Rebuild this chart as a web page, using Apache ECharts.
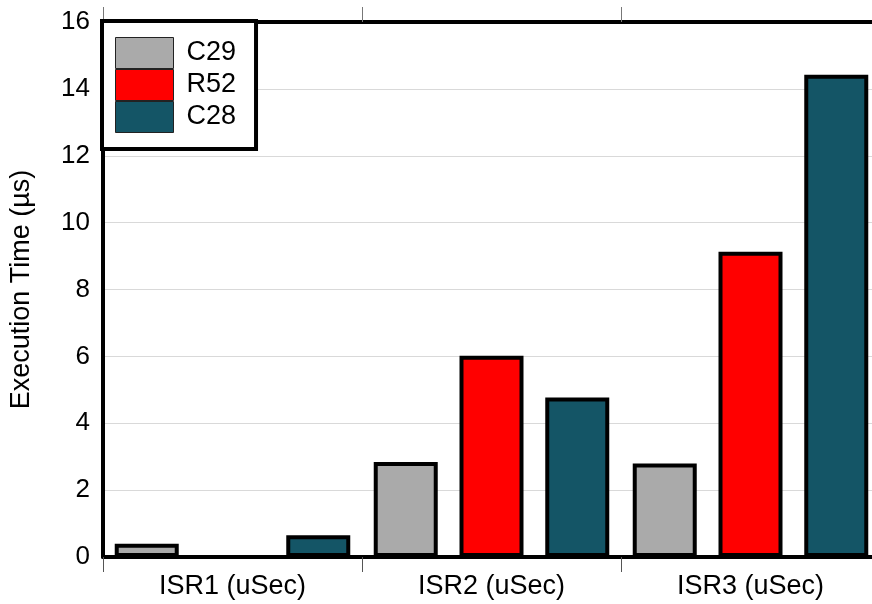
<!DOCTYPE html>
<html>
<head>
<meta charset="utf-8">
<script src="https://cdn.jsdelivr.net/npm/echarts@6/dist/echarts.min.js"></script>
<style>html,body{margin:0;padding:0;background:#fff;}#c{width:872px;height:604px;}</style>
</head>
<body>
<div id="c"></div>
<script>
const categories = ['ISR1 (uSec)', 'ISR2 (uSec)', 'ISR3 (uSec)'];
const seriesNames = ['C29', 'R52', 'C28'];
const c29 = [0.4, 2.84, 2.8];
const r52 = [0, 6.02, 9.13];
const c28 = [0.65, 4.77, 14.42];
const yTicks = { min: 0, max: 16, interval: 2 };
const colors = ['#aaaaaa', '#ff0000', '#145566'];

const FONT = 'Liberation Sans, Arial, sans-serif';
const chart = echarts.init(document.getElementById('c'), null, { renderer: 'canvas' });
const values = [c29, r52, c28];
chart.setOption({
  animation: false,
  backgroundColor: '#ffffff',
  textStyle: { fontFamily: FONT },
  grid: { left: 103, right: -8, top: 22, bottom: 47, containLabel: false, outerBoundsMode: 'none' },
  legend: {
    orient: 'vertical',
    left: 102, top: 21,
    itemWidth: 58, itemHeight: 31, itemGap: 0,
    padding: [16, 20, 16, 13],
    backgroundColor: '#ffffff',
    borderColor: '#000000', borderWidth: 4, borderRadius: 0,
    icon: 'rect',
    itemStyle: { borderColor: '#222222', borderWidth: 1 },
    textStyle: { fontSize: 27, color: '#000', fontFamily: FONT, padding: [0, 0, 0, 8] },
    data: seriesNames,
    z: 10
  },
  xAxis: [{
    type: 'category', data: categories, position: 'bottom',
    axisLine: { show: true, lineStyle: { color: '#000', width: 4 } },
    axisTick: { show: true, length: 15, lineStyle: { color: '#555', width: 1 } },
    axisLabel: { fontSize: 27, color: '#000', margin: 16, fontFamily: FONT },
    splitLine: { show: false }
  }, {
    type: 'category', data: categories, position: 'top',
    axisLine: { show: true, lineStyle: { color: '#000', width: 4 } },
    axisTick: { show: true, length: 15, lineStyle: { color: '#777', width: 1 } },
    axisLabel: { show: false },
    splitLine: { show: false }
  }],
  yAxis: {
    type: 'value', min: yTicks.min, max: yTicks.max, interval: yTicks.interval,
    name: 'Execution Time (µs)', nameLocation: 'middle', nameGap: 68,
    nameTextStyle: { fontSize: 27, color: '#000', fontFamily: FONT },
    axisLine: { show: true, lineStyle: { color: '#000', width: 4 } },
    axisTick: { show: false },
    axisLabel: { fontSize: 26, color: '#000', margin: 13, fontFamily: FONT },
    splitLine: { show: true, lineStyle: { color: '#d9d9d9', width: 1 } }
  },
  series: seriesNames.map((n, i) => ({
    name: n, type: 'bar', data: values[i], xAxisIndex: 0,
    barWidth: 64, barGap: '34%',
    itemStyle: { color: colors[i], borderColor: '#000', borderWidth: 4 },
    z: 2
  }))
});
</script>
</body>
</html>
